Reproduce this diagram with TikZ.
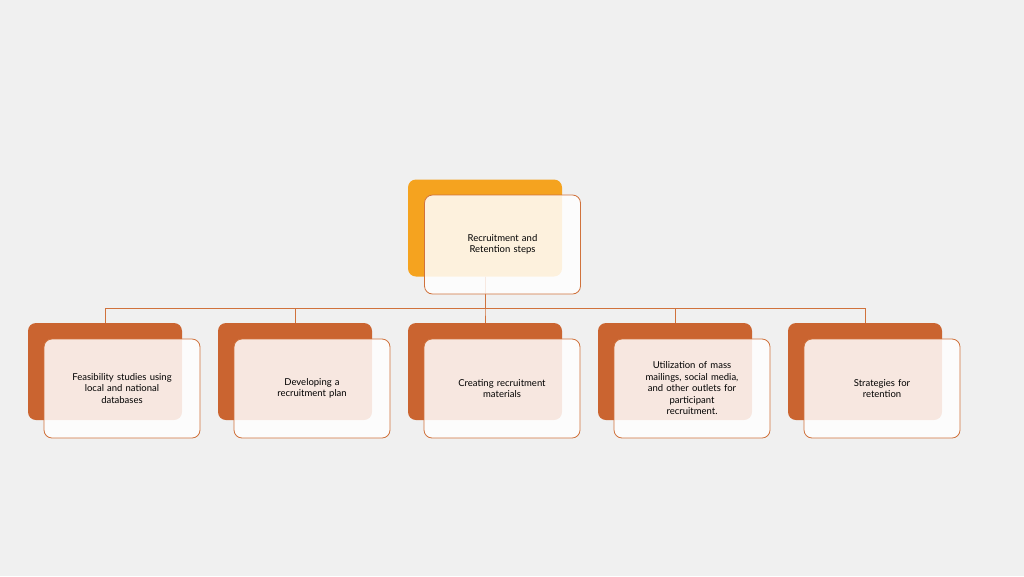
\documentclass[tikz,border=0pt]{standalone}
\usepackage{fontspec}
\setmainfont{Lato}
\usetikzlibrary{positioning}
\definecolor{pagebg}{HTML}{F0F0F0}
\definecolor{rootorange}{HTML}{F5A31F}
\definecolor{stepbrown}{HTML}{CA6430}
\definecolor{edgeline}{HTML}{D0723C}

\begin{document}
\begin{tikzpicture}[
    x=1pt, y=-1pt,
    backbox/.style={rectangle,rounded corners=8pt,minimum width=154pt,minimum height=97pt,inner sep=0pt},
    frontbox/.style={rectangle,rounded corners=8pt,draw=edgeline,line width=0.8pt,fill=white,fill opacity=0.85,text opacity=1,
        minimum width=156pt,minimum height=99pt,inner sep=4pt,text width=146pt,align=center,font=\fontsize{9.5}{11.5}\selectfont},
    link/.style={draw=edgeline,line width=0.8pt}
]
    \fill[pagebg] (0,0) rectangle (1024,576);
    \useasboundingbox (0,0) rectangle (1024,576);

    % root
    \node[backbox,fill=rootorange] (rootback) at (485,228) {};

    % step boxes behind
    \foreach \i/\cx in {1/105,2/295,3/485,4/675,5/865}{
        \node[backbox,fill=stepbrown] (back\i) at (\cx,371.5) {};
        \draw[link] (rootback.south) -- ++(0,32) -| (back\i.north);
    }

    % front boxes
    \node[frontbox] (rootfront) at (502.5,244.5) {Recruitment and\\Retention steps};
    \node[frontbox] (front1) at (122,388.5) {Feasibility studies using\\local and national\\databases};
    \node[frontbox] (front2) at (312,388.5) {Developing a\\recruitment plan};
    \node[frontbox] (front3) at (502,388.5) {Creating recruitment\\materials};
    \node[frontbox] (front4) at (692,388.5) {Utilization of mass\\mailings, social media,\\and other outlets for\\participant\\recruitment.};
    \node[frontbox] (front5) at (882,388.5) {Strategies for\\retention};
\end{tikzpicture}
\end{document}
